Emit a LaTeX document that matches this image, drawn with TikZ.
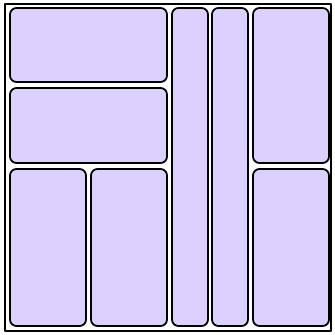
\documentclass[tikz,border=0pt]{standalone}
\usepackage{tikz}
\definecolor{panelfill}{RGB}{220,208,255}
\begin{document}
\begin{tikzpicture}[
    x=0.03cm,
    y=-0.03cm,
    line join=round,
    frame/.style={
        line width=1.7pt
    },
    panel/.style={
        line width=1.5pt,
        rounded corners=5.5pt,
        fill=panelfill
    }
]

% =================================================
% Bounding box
% =================================================

\useasboundingbox (0,0) rectangle (334,335);

% =================================================
% Outer frame
% =================================================

\draw[frame] (5,4) rectangle (331,331);

% =================================================
% Left block
% =================================================

% Wide panels
\draw[panel] (10,8) rectangle (167,82);
\draw[panel] (10,88) rectangle (167,163);

% Small panels below
\draw[panel] (10,169) rectangle (86,326);
\draw[panel] (91,169) rectangle (167,326);

% =================================================
% Narrow columns
% =================================================

\draw[panel] (172,8) rectangle (208,326);
\draw[panel] (212,8) rectangle (248,326);

% =================================================
% Right column
% =================================================

\draw[panel] (253,8) rectangle (329,163);
\draw[panel] (253,169) rectangle (329,326);

\end{tikzpicture}
\end{document}
